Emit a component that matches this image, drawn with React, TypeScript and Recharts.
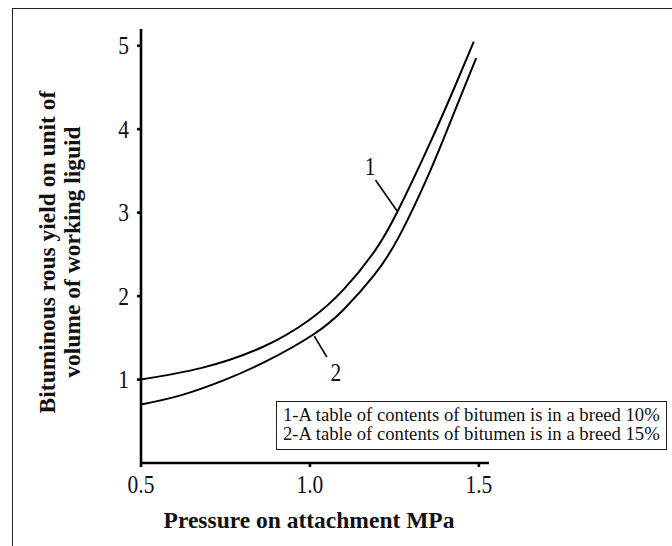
import React from 'react';
import { LineChart, Line, XAxis, YAxis, Legend, ReferenceLine, ReferenceDot } from 'recharts';

// pressure on attachment, MPa
const P1 = [0.5, 0.68, 0.86, 1.0, 1.1, 1.19, 1.26, 1.355, 1.43, 1.485];
const Y1 = [1.0, 1.14, 1.39, 1.72, 2.08, 2.53, 3.02, 3.83, 4.52, 5.05];
const P2 = [0.5, 0.617, 0.744, 0.871, 1.01, 1.1, 1.19, 1.266, 1.355, 1.43, 1.492];
const Y2 = [0.7, 0.81, 0.99, 1.22, 1.54, 1.84, 2.25, 2.73, 3.49, 4.23, 4.85];

const X_TICKS = [0.5, 1.0, 1.5];
const Y_TICKS = [1, 2, 3, 4, 5];
const LEGEND_LINES = [
  '1-A table of contents of bitumen is in a breed 10%',
  '2-A table of contents of bitumen is in a breed 15%',
];
const X_LABEL = 'Pressure on attachment MPa';
const Y_LABEL = ['Bituminous rous yield on unit of', 'volume of working liguid'];

// curve markers "1" and "2" with their leader lines (data coords)
const MARK1 = { x: 1.178, y: 3.55 };
const LEAD1 = [{ x: 1.194, y: 3.39 }, { x: 1.258, y: 3.02 }];
const MARK2 = { x: 1.077, y: 1.09 };
const LEAD2 = [{ x: 1.013, y: 1.52 }, { x: 1.05, y: 1.27 }];

const curve1 = P1.map((x, i) => ({ x, y: Y1[i] }));
const curve2 = P2.map((x, i) => ({ x, y: Y2[i] }));

const SERIF = '"Liberation Serif", "Times New Roman", serif';
const INK = '#111';
const STRETCH = 'scale(1,1.15)';

// the original's lettering is slightly tall/condensed
function XTick({ x, y, payload }: any) {
  return (
    <g transform={`translate(${x},${y + 6})`}>
      <text transform={STRETCH} textAnchor="middle" dy="0.72em" fontFamily={SERIF} fontSize={21.5} fill={INK}>{payload.value.toFixed(1)}</text>
    </g>
  );
}
function YTick({ x, y, payload }: any) {
  return (
    <g transform={`translate(${x - 6},${y})`}>
      <text transform={STRETCH} textAnchor="end" dy="0.35em" fontFamily={SERIF} fontSize={21.5} fill={INK}>{payload.value}</text>
    </g>
  );
}
function Mark({ viewBox, value }: any) {
  const cx = viewBox.x + viewBox.width / 2;
  const cy = viewBox.y + viewBox.height / 2;
  return (
    <g transform={`translate(${cx},${cy})`}>
      <text transform={STRETCH} textAnchor="middle" dy="0.35em" fontFamily={SERIF} fontSize={21.5} fill={INK}>{value}</text>
    </g>
  );
}

function LegendBox() {
  return (
    <div style={{ border: '1.3px solid #222', background: '#fff', padding: '3px 6px 6px 6px', fontFamily: SERIF, fontSize: 18.7, lineHeight: '19px', color: INK, whiteSpace: 'nowrap' }}>
      {LEGEND_LINES.map(t => <div key={t}>{t}</div>)}
    </div>
  );
}

export default function App() {
  return (
    <div style={{ position: 'absolute', left: 0, top: 0, width: 672, height: 546, overflow: 'hidden', background: '#fff' }}>
      <div style={{ position: 'absolute', left: 12, top: 8, width: 720, height: 620, border: '1.6px solid #222' }} />
      <LineChart width={672} height={546} data={curve1} margin={{ top: 29, right: 183, bottom: 0, left: 0 }} style={{ position: 'absolute', left: 0, top: 0 }}>
        <XAxis dataKey="x" type="number" domain={[0.5, 1.53]} ticks={X_TICKS}
          height={83} stroke="#000" strokeWidth={2.6} tickSize={4} tick={<XTick />} allowDataOverflow
          label={{ content: () => <text x={309} y={528} textAnchor="middle" fontFamily={SERIF} fontWeight="bold" fontSize={23.5} fill={INK}>{X_LABEL}</text> }} />
        <YAxis type="number" domain={[0, 5.2]} ticks={Y_TICKS} width={141} stroke="#000" strokeWidth={2.6} tickSize={4}
          tick={<YTick />} allowDataOverflow
          label={{ content: () => (
            <g fontFamily={SERIF} fontWeight="bold" fontSize={23.5} fill={INK}>
              <text transform="translate(55,252) rotate(-90)" textAnchor="middle">{Y_LABEL[0]}</text>
              <text transform="translate(80,252) rotate(-90)" textAnchor="middle">{Y_LABEL[1]}</text>
            </g>
          ) }} />
        <Line data={curve1} dataKey="y" type="natural" stroke="#000" strokeWidth={2} dot={false} isAnimationActive={false} />
        <Line data={curve2} dataKey="y" type="natural" stroke="#000" strokeWidth={2} dot={false} isAnimationActive={false} />
        <ReferenceLine segment={LEAD1} stroke="#000" strokeWidth={1.6} />
        <ReferenceLine segment={LEAD2} stroke="#000" strokeWidth={1.6} />
        <ReferenceDot x={MARK1.x} y={MARK1.y} r={0} stroke="none" fill="none" label={{ value: '1', content: <Mark /> }} />
        <ReferenceDot x={MARK2.x} y={MARK2.y} r={0} stroke="none" fill="none" label={{ value: '2', content: <Mark /> }} />
        <Legend layout="horizontal" verticalAlign="middle" align="center" content={() => <LegendBox />}
          wrapperStyle={{ left: 276, top: 401, bottom: 'auto', width: 'auto' }} />
      </LineChart>
    </div>
  );
}
